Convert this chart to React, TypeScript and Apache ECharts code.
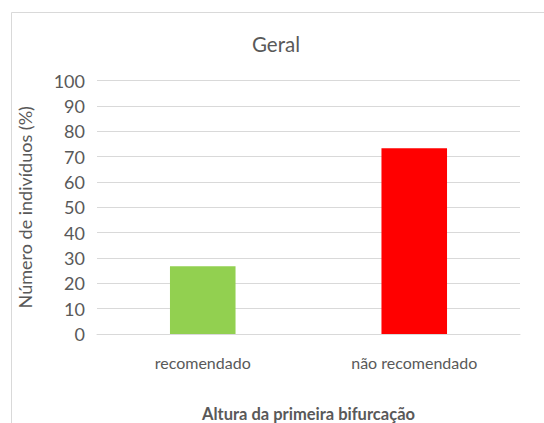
import React, { useEffect, useRef } from "react";
import * as echarts from "echarts";

const categories = ["recomendado", "não recomendado"];
const values = [26.7, 73.3];
const barColors = ["#92d050", "#ff0000"];
const titleText = "Geral";
const xAxisName = "Altura da primeira bifurcação";
const yAxisName = "Número de indivíduos (%)";

const FONT = "Lato, 'DejaVu Sans', sans-serif";
const TEXT = "#595959";

export default function App() {
  const ref = useRef<HTMLDivElement>(null);

  useEffect(() => {
    if (!ref.current) return;
    const chart = echarts.init(ref.current, undefined, { renderer: "svg" });
    chart.setOption({
      animation: false,
      backgroundColor: "#ffffff",
      textStyle: { fontFamily: FONT, color: TEXT },
      graphic: [
        {
          type: "rect",
          shape: { x: 11.5, y: 12.5, width: 600, height: 500 },
          style: { fill: "none", stroke: "#d9d9d9", lineWidth: 1 },
          silent: true,
        },
        {
          type: "text",
          x: 276,
          y: 44,
          style: {
            text: titleText,
            fontFamily: FONT,
            fontSize: 20.5,
            fill: TEXT,
            align: "center",
            verticalAlign: "middle",
          },
        },
      ],
      grid: {
        left: 97,
        right: 24,
        top: 80.5,
        bottom: 89,
        containLabel: false,
        outerBoundsMode: "none",
      },
      xAxis: {
        type: "category",
        data: categories,
        axisLine: { show: true, lineStyle: { color: "#d9d9d9", width: 1 } },
        axisTick: { show: false },
        axisLabel: { fontFamily: FONT, fontSize: 16, color: TEXT, margin: 20 },
        name: xAxisName,
        nameLocation: "middle",
        nameGap: 71,
        nameTextStyle: { fontFamily: FONT, fontSize: 16.5, fontWeight: "bold", color: TEXT },
      },
      yAxis: {
        type: "value",
        min: 0,
        max: 100,
        interval: 10,
        axisLine: { show: false },
        axisTick: { show: false },
        splitLine: { lineStyle: { color: "#d9d9d9", width: 1 } },
        axisLabel: { fontFamily: FONT, fontSize: 18, color: TEXT, margin: 12 },
        name: yAxisName,
        nameLocation: "middle",
        nameGap: 63,
        nameTextStyle: { fontFamily: FONT, fontSize: 18, color: TEXT },
      },
      series: [
        {
          type: "bar",
          barWidth: "31%",
          data: values.map((v, i) => ({ value: v, itemStyle: { color: barColors[i] } })),
        },
      ],
    });
    return () => chart.dispose();
  }, []);

  return (
    <div
      ref={ref}
      style={{ position: "fixed", left: 0, top: 0, width: 544, height: 423 }}
    />
  );
}
